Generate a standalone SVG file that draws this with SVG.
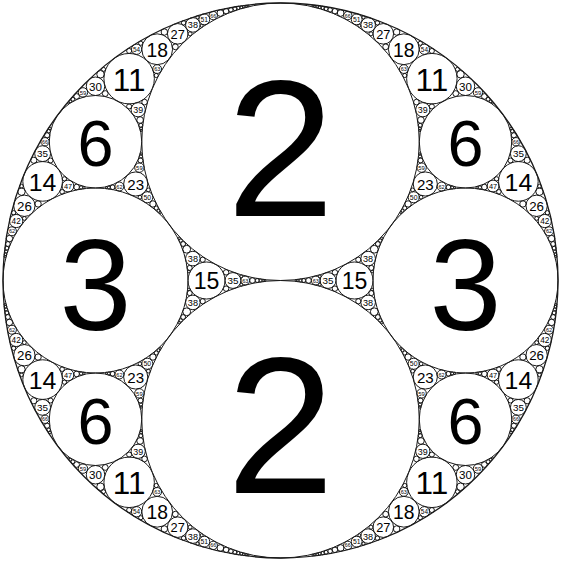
<svg xmlns="http://www.w3.org/2000/svg" width="561" height="561" viewBox="0 0 561 561">
<style>
circle{fill:none;stroke:#1a1a1a;stroke-width:1}
text{font-family:"Liberation Sans",Arial,sans-serif;fill:#000;text-anchor:middle}
</style>
<rect width="561" height="561" fill="#fff"/>
<defs>
<g id="q">
<circle cx="465.5" cy="141.75" r="46.25"/>
<circle cx="431.86" cy="78.68" r="25.23"/>
<circle cx="403.83" cy="49.25" r="15.42"/>
<circle cx="383.28" cy="33.83" r="10.28"/>
<circle cx="368.13" cy="24.91" r="7.3"/>
<circle cx="356.68" cy="19.32" r="5.44"/>
<circle cx="347.77" cy="15.61" r="4.2"/>
<circle cx="340.68" cy="13.03" r="3.34"/>
<circle cx="334.91" cy="11.16" r="2.72"/>
<circle cx="330.13" cy="9.77" r="2.26"/>
<circle cx="326.12" cy="8.7" r="1.9"/>
<circle cx="322.69" cy="7.87" r="1.62"/>
<circle cx="319.74" cy="7.2" r="1.4"/>
<circle cx="317.17" cy="6.67" r="1.22"/>
<circle cx="314.92" cy="6.23" r="1.08"/>
<circle cx="312.92" cy="5.86" r="0.95"/>
<circle cx="518.36" cy="181.39" r="19.82"/>
<circle cx="465.5" cy="86.25" r="9.25"/>
<circle cx="424.39" cy="49.25" r="5.14"/>
<circle cx="396.66" cy="32.04" r="3.23"/>
<circle cx="377.4" cy="22.82" r="2.2"/>
<circle cx="363.43" cy="17.35" r="1.6"/>
<circle cx="425.28" cy="183.98" r="12.07"/>
<circle cx="422.81" cy="109.73" r="7.12"/>
<circle cx="403.83" cy="69.07" r="4.4"/>
<circle cx="385.66" cy="46.82" r="2.92"/>
<circle cx="370.94" cy="33.83" r="2.06"/>
<circle cx="359.35" cy="25.75" r="1.52"/>
<circle cx="536.65" cy="205.79" r="10.67"/>
<circle cx="544.79" cy="221.04" r="6.61"/>
<circle cx="549.05" cy="231.27" r="4.48"/>
<circle cx="551.55" cy="238.55" r="3.23"/>
<circle cx="553.13" cy="243.99" r="2.43"/>
<circle cx="554.2" cy="248.19" r="1.9"/>
<circle cx="554.95" cy="251.53" r="1.52"/>
<circle cx="555.5" cy="254.25" r="1.25"/>
<circle cx="555.91" cy="256.51" r="1.04"/>
<circle cx="518.36" cy="153.64" r="7.93"/>
<circle cx="539.5" cy="191.7" r="3.7"/>
<circle cx="547.41" cy="212.71" r="2.12"/>
<circle cx="493.05" cy="186.03" r="5.9"/>
<circle cx="522.91" cy="203.95" r="3.19"/>
<circle cx="536.65" cy="218.4" r="1.94"/>
<circle cx="515.95" cy="141.75" r="4.2"/>
<circle cx="527.17" cy="160.25" r="3.08"/>
<circle cx="513.91" cy="135.27" r="2.59"/>
<circle cx="510.5" cy="160.5" r="2.5"/>
<circle cx="539.5" cy="186.15" r="1.85"/>
<circle cx="484.38" cy="187.06" r="2.83"/>
<circle cx="498.86" cy="191.79" r="2.27"/>
<circle cx="496.57" cy="178.82" r="2.12"/>
<circle cx="413.7" cy="197.25" r="5.55"/>
<circle cx="408.09" cy="203.95" r="3.19"/>
<circle cx="404.75" cy="208.02" r="2.07"/>
<circle cx="402.54" cy="210.76" r="1.45"/>
<circle cx="400.97" cy="212.74" r="1.08"/>
<circle cx="421.6" cy="167.62" r="4.7"/>
<circle cx="412.64" cy="189.89" r="1.89"/>
<circle cx="441.63" cy="186.51" r="4.48"/>
<circle cx="421.1" cy="197.25" r="1.85"/>
<circle cx="420.5" cy="160.5" r="2.5"/>
<circle cx="448.4" cy="187.22" r="2.33"/>
<circle cx="478.04" cy="92.36" r="4.7"/>
<circle cx="460.5" cy="74.25" r="3.75"/>
<circle cx="455.76" cy="93.55" r="2.92"/>
<circle cx="484.38" cy="96.44" r="2.83"/>
<circle cx="488.15" cy="99.28" r="1.89"/>
<circle cx="457.46" cy="69.36" r="2.01"/>
<circle cx="420.92" cy="120.02" r="3.34"/>
<circle cx="416.42" cy="102.11" r="2.83"/>
<circle cx="431.86" cy="106.43" r="2.52"/>
<circle cx="420.22" cy="125.26" r="1.94"/>
<circle cx="431.86" cy="50.93" r="2.52"/>
<circle cx="420.31" cy="43.25" r="2.12"/>
<circle cx="404.75" cy="75.48" r="2.07"/>
<circle cx="368.13" cy="258.59" r="7.3"/>
<circle cx="374.3" cy="249.23" r="3.91"/>
<circle cx="377.87" cy="243.99" r="2.43"/>
<circle cx="380.2" cy="240.62" r="1.66"/>
<circle cx="381.85" cy="238.27" r="1.21"/>
<circle cx="358.3" cy="259.75" r="2.59"/>
<circle cx="371.32" cy="267.89" r="2.52"/>
<circle cx="334.91" cy="272.34" r="2.72"/>
<circle cx="319.74" cy="276.3" r="1.4"/>
<circle cx="372.15" cy="271.59" r="1.27"/>
<circle cx="419.88" cy="128.45" r="1.27"/>
<circle cx="419.7" cy="130.6" r="0.89"/>
<circle cx="420.03" cy="156.48" r="1.55"/>
<circle cx="419.78" cy="153.88" r="1.06"/>
<circle cx="479.9" cy="187.45" r="1.66"/>
<circle cx="477.15" cy="187.64" r="1.09"/>
<circle cx="452.15" cy="187.52" r="1.43"/>
<circle cx="454.54" cy="187.68" r="0.97"/>
<circle cx="490.65" cy="101.34" r="1.35"/>
<circle cx="492.41" cy="102.9" r="1.01"/>
<circle cx="512.34" cy="131.21" r="1.76"/>
<circle cx="511.12" cy="128.45" r="1.27"/>
</g>
<g id="ax">
<circle cx="354.5" cy="280.5" r="18.5"/>
<circle cx="328.07" cy="280.5" r="7.93"/>
<circle cx="315.74" cy="280.5" r="4.4"/>
<circle cx="308.53" cy="280.5" r="2.8"/>
<circle cx="303.79" cy="280.5" r="1.94"/>
<circle cx="300.42" cy="280.5" r="1.42"/>
<circle cx="297.91" cy="280.5" r="1.09"/>
<circle cx="295.96" cy="280.5" r="0.86"/>
</g>
</defs>
<g id="gasket">
<circle id="outer" cx="280.5" cy="280.5" r="277.5" style="stroke-width:1.3"/>
<circle id="c2top" cx="280.5" cy="141.75" r="138.75"/>
<circle id="c2bottom" cx="280.5" cy="419.25" r="138.75"/>
<circle id="c3right" cx="465.5" cy="280.5" r="92.5"/>
<circle id="c3left" cx="95.5" cy="280.5" r="92.5"/>
<use href="#q"/>
<use href="#q" transform="matrix(-1 0 0 1 561 0)"/>
<use href="#q" transform="matrix(1 0 0 -1 0 561)"/>
<use href="#q" transform="matrix(-1 0 0 -1 561 561)"/>
<use href="#ax"/>
<use href="#ax" transform="matrix(-1 0 0 1 561 0)"/>
</g>
<g id="labels">
<text x="280.5" y="215.6" font-size="194.3">2</text>
<text x="280.5" y="493.1" font-size="194.3">2</text>
<text x="465.5" y="329.7" font-size="129.5">3</text>
<text x="95.5" y="329.7" font-size="129.5">3</text>
<text x="354.5" y="289.3" font-size="23.1">15</text>
<text x="206.5" y="289.3" font-size="23.1">15</text>
<text x="328.1" y="284.3" font-size="9.9">35</text>
<text x="232.9" y="284.3" font-size="9.9">35</text>
<text x="315.7" y="282.6" font-size="5.5">63</text>
<text x="245.3" y="282.6" font-size="5.5">63</text>

<text x="465.5" y="166.4" font-size="64.8">6</text>
<text x="431.9" y="90.7" font-size="31.5">11</text>
<text x="403.8" y="56.6" font-size="19.3">18</text>
<text x="383.3" y="38.7" font-size="12.8">27</text>
<text x="368.1" y="28.4" font-size="9.1">38</text>
<text x="356.7" y="21.9" font-size="6.8">51</text>
<text x="347.8" y="17.6" font-size="5.3">66</text>
<text x="518.4" y="190.8" font-size="24.8">14</text>
<text x="465.5" y="90.6" font-size="11.6">30</text>
<text x="424.4" y="51.7" font-size="6.4">54</text>
<text x="425.3" y="189.7" font-size="15.1">23</text>
<text x="422.8" y="113.1" font-size="8.9">39</text>
<text x="403.8" y="71.2" font-size="5.5">63</text>
<text x="536.6" y="210.9" font-size="13.3">26</text>
<text x="544.8" y="224.2" font-size="8.3">42</text>
<text x="549.0" y="233.4" font-size="5.6">62</text>
<text x="518.4" y="157.4" font-size="9.9">35</text>
<text x="493.0" y="188.8" font-size="7.4">47</text>
<text x="516.0" y="143.8" font-size="5.3">66</text>
<text x="413.7" y="199.9" font-size="6.9">50</text>
<text x="421.6" y="169.9" font-size="5.9">59</text>
<text x="441.6" y="188.6" font-size="5.6">62</text>
<text x="478.0" y="94.6" font-size="5.9">59</text>
<text x="368.1" y="262.1" font-size="9.1">38</text>

<text x="95.5" y="166.4" font-size="64.8">6</text>
<text x="129.1" y="90.7" font-size="31.5">11</text>
<text x="157.2" y="56.6" font-size="19.3">18</text>
<text x="177.7" y="38.7" font-size="12.8">27</text>
<text x="192.9" y="28.4" font-size="9.1">38</text>
<text x="204.3" y="21.9" font-size="6.8">51</text>
<text x="213.2" y="17.6" font-size="5.3">66</text>
<text x="42.6" y="190.8" font-size="24.8">14</text>
<text x="95.5" y="90.6" font-size="11.6">30</text>
<text x="136.6" y="51.7" font-size="6.4">54</text>
<text x="135.7" y="189.7" font-size="15.1">23</text>
<text x="138.2" y="113.1" font-size="8.9">39</text>
<text x="157.2" y="71.2" font-size="5.5">63</text>
<text x="24.4" y="210.9" font-size="13.3">26</text>
<text x="16.2" y="224.2" font-size="8.3">42</text>
<text x="12.0" y="233.4" font-size="5.6">62</text>
<text x="42.6" y="157.4" font-size="9.9">35</text>
<text x="68.0" y="188.8" font-size="7.4">47</text>
<text x="45.0" y="143.8" font-size="5.3">66</text>
<text x="147.3" y="199.9" font-size="6.9">50</text>
<text x="139.4" y="169.9" font-size="5.9">59</text>
<text x="119.4" y="188.6" font-size="5.6">62</text>
<text x="83.0" y="94.6" font-size="5.9">59</text>
<text x="192.9" y="262.1" font-size="9.1">38</text>

<text x="465.5" y="443.9" font-size="64.8">6</text>
<text x="431.9" y="494.3" font-size="31.5">11</text>
<text x="403.8" y="519.1" font-size="19.3">18</text>
<text x="383.3" y="532.1" font-size="12.8">27</text>
<text x="368.1" y="539.6" font-size="9.1">38</text>
<text x="356.7" y="544.3" font-size="6.8">51</text>
<text x="347.8" y="547.4" font-size="5.3">66</text>
<text x="518.4" y="389.0" font-size="24.8">14</text>
<text x="465.5" y="479.1" font-size="11.6">30</text>
<text x="424.4" y="514.2" font-size="6.4">54</text>
<text x="425.3" y="382.8" font-size="15.1">23</text>
<text x="422.8" y="454.7" font-size="8.9">39</text>
<text x="403.8" y="494.0" font-size="5.5">63</text>
<text x="536.6" y="360.3" font-size="13.3">26</text>
<text x="544.8" y="343.1" font-size="8.3">42</text>
<text x="549.0" y="331.9" font-size="5.6">62</text>
<text x="518.4" y="411.1" font-size="9.9">35</text>
<text x="493.0" y="377.8" font-size="7.4">47</text>
<text x="516.0" y="421.3" font-size="5.3">66</text>
<text x="413.7" y="366.4" font-size="6.9">50</text>
<text x="421.6" y="395.6" font-size="5.9">59</text>
<text x="441.6" y="376.6" font-size="5.6">62</text>
<text x="478.0" y="470.9" font-size="5.9">59</text>
<text x="368.1" y="305.9" font-size="9.1">38</text>

<text x="95.5" y="443.9" font-size="64.8">6</text>
<text x="129.1" y="494.3" font-size="31.5">11</text>
<text x="157.2" y="519.1" font-size="19.3">18</text>
<text x="177.7" y="532.1" font-size="12.8">27</text>
<text x="192.9" y="539.6" font-size="9.1">38</text>
<text x="204.3" y="544.3" font-size="6.8">51</text>
<text x="213.2" y="547.4" font-size="5.3">66</text>
<text x="42.6" y="389.0" font-size="24.8">14</text>
<text x="95.5" y="479.1" font-size="11.6">30</text>
<text x="136.6" y="514.2" font-size="6.4">54</text>
<text x="135.7" y="382.8" font-size="15.1">23</text>
<text x="138.2" y="454.7" font-size="8.9">39</text>
<text x="157.2" y="494.0" font-size="5.5">63</text>
<text x="24.4" y="360.3" font-size="13.3">26</text>
<text x="16.2" y="343.1" font-size="8.3">42</text>
<text x="12.0" y="331.9" font-size="5.6">62</text>
<text x="42.6" y="411.1" font-size="9.9">35</text>
<text x="68.0" y="377.8" font-size="7.4">47</text>
<text x="45.0" y="421.3" font-size="5.3">66</text>
<text x="147.3" y="366.4" font-size="6.9">50</text>
<text x="139.4" y="395.6" font-size="5.9">59</text>
<text x="119.4" y="376.6" font-size="5.6">62</text>
<text x="83.0" y="470.9" font-size="5.9">59</text>
<text x="192.9" y="305.9" font-size="9.1">38</text>
</g>
</svg>
